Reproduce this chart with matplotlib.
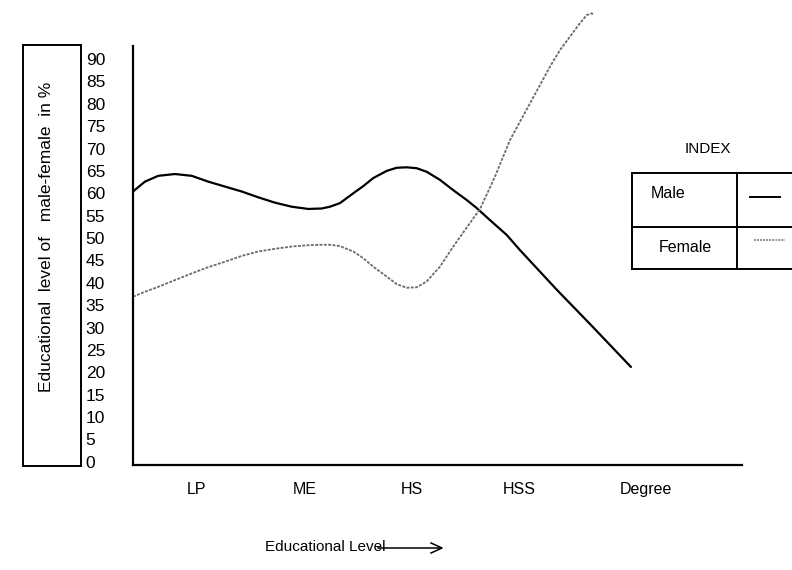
import matplotlib
matplotlib.use("Agg")
import matplotlib.pyplot as plt
from matplotlib.patches import Rectangle
from matplotlib.lines import Line2D

plt.rcParams['font.family'] = ['Liberation Sans', 'DejaVu Sans']

# values (x in category units, LP = 1 ... Degree = 5)
categories = ["LP", "ME", "HS", "HSS", "Degree"]
yticks = [0, 5, 10, 15, 20, 25, 30, 35, 40, 45, 50, 55, 60, 65, 70, 75, 80, 85, 90]

male_x = [0.405, 0.516, 0.640, 0.795, 0.951, 1.105, 1.260, 1.416, 1.570, 1.726,
          1.881, 2.035, 2.160, 2.237, 2.330, 2.454, 2.547, 2.640, 2.765, 2.858,
          2.951, 3.044, 3.137, 3.260, 3.384, 3.509, 3.602, 3.726, 3.881, 4.005,
          4.349, 4.684, 5.037]
male_y = [60.4, 62.6, 63.9, 64.3, 63.9, 62.6, 61.5, 60.4, 59.1, 57.9,
          57.0, 56.5, 56.6, 57.0, 57.8, 60.0, 61.6, 63.4, 65.0, 65.7,
          65.8, 65.6, 64.8, 63.0, 60.7, 58.5, 56.7, 54.0, 50.7, 47.3,
          38.4, 30.1, 21.2]

female_x = [0.405, 0.516, 0.640, 0.795, 0.951, 1.105, 1.260, 1.416, 1.570, 1.726,
            1.881, 2.035, 2.160, 2.237, 2.330, 2.454, 2.547, 2.640, 2.765, 2.858,
            2.951, 3.044, 3.137, 3.260, 3.384, 3.493, 3.633, 3.772, 3.912, 4.098,
            4.284, 4.377, 4.470, 4.563, 4.625, 4.672, 4.693]
female_y = [36.9, 38.0, 39.1, 40.6, 42.1, 43.5, 44.7, 46.0, 47.0, 47.6,
            48.1, 48.4, 48.5, 48.5, 48.2, 47.0, 45.5, 43.6, 41.4, 39.7,
            38.9, 39.0, 40.3, 43.6, 48.1, 51.8, 56.5, 63.7, 71.9, 80.1,
            88.3, 92.0, 95.0, 98.0, 99.8, 100.2, 99.8]

W, H = 792, 570


def fx(px):
    return px / W


def fy(py):
    return 1 - py / H


fig = plt.figure(figsize=(7.92, 5.70), dpi=100)
ax = fig.add_axes([fx(133), fy(465), fx(742) - fx(133), fy(46) - fy(465)])

ax.plot(male_x, male_y, color="black", lw=1.6, clip_on=False,
        solid_capstyle="round", solid_joinstyle="round")
ax.plot(female_x, female_y, color="#6a6a6a", lw=1.3, ls=(0, (1.6, 0.8)), clip_on=False)

ax.set_xlim(0.405, 6.07)
ax.set_ylim(-0.7, 92.9)

ax.spines['top'].set_visible(False)
ax.spines['right'].set_visible(False)
ax.spines['left'].set_linewidth(1.6)
ax.spines['bottom'].set_linewidth(1.6)

ax.set_yticks(yticks)
ax.set_yticklabels([str(v) for v in yticks], fontsize=12.5)
ax.tick_params(axis='y', length=0, pad=34)
for lab in ax.get_yticklabels():
    lab.set_horizontalalignment('left')

xpos = [1, 2, 3, 4, 5.18]
ax.set_xticks(xpos)
ax.set_xticklabels(categories, fontsize=11.5)
ax.tick_params(axis='x', length=0, pad=12)

# y label inside a box
fig.add_artist(Rectangle((fx(23), fy(466)), fx(81) - fx(23), fy(45) - fy(466),
                         transform=fig.transFigure, fill=False, lw=1.4, ec="black"))
fig.text(fx(47), fy(237), "Educational  level of   male-female  in %", rotation=90,
         ha="center", va="center", fontsize=12.5)

# x label with arrow
fig.text(fx(265), fy(547), "Educational Level", ha="left", va="center", fontsize=11)
fig.add_artist(Line2D([fx(378), fx(441)], [fy(548), fy(548)], transform=fig.transFigure,
                      color="black", lw=1.1))
fig.add_artist(Line2D([fx(431), fx(442), fx(431)], [fy(543), fy(548), fy(553)],
                      transform=fig.transFigure, color="black", lw=1.1))

# INDEX table legend
fig.text(fx(708), fy(149), "INDEX", ha="center", va="center", fontsize=11)
lw_t = 1.4
for y0 in [173, 227, 269]:
    fig.add_artist(Line2D([fx(632), fx(800)], [fy(y0), fy(y0)], transform=fig.transFigure,
                          color="black", lw=lw_t))
for x0 in [632, 737]:
    fig.add_artist(Line2D([fx(x0), fx(x0)], [fy(173), fy(269)], transform=fig.transFigure,
                          color="black", lw=lw_t))
fig.text(fx(668), fy(194), "Male", ha="center", va="center", fontsize=11.5)
fig.text(fx(685), fy(248), "Female", ha="center", va="center", fontsize=11.5)
fig.add_artist(Line2D([fx(750), fx(780)], [fy(197), fy(197)], transform=fig.transFigure,
                      color="black", lw=1.4))
fig.add_artist(Line2D([fx(754), fx(785)], [fy(240), fy(240)], transform=fig.transFigure,
                      color="#6a6a6a", lw=1.1, ls=(0, (1.2, 0.8))))

fig.savefig("out.png", dpi=100)
